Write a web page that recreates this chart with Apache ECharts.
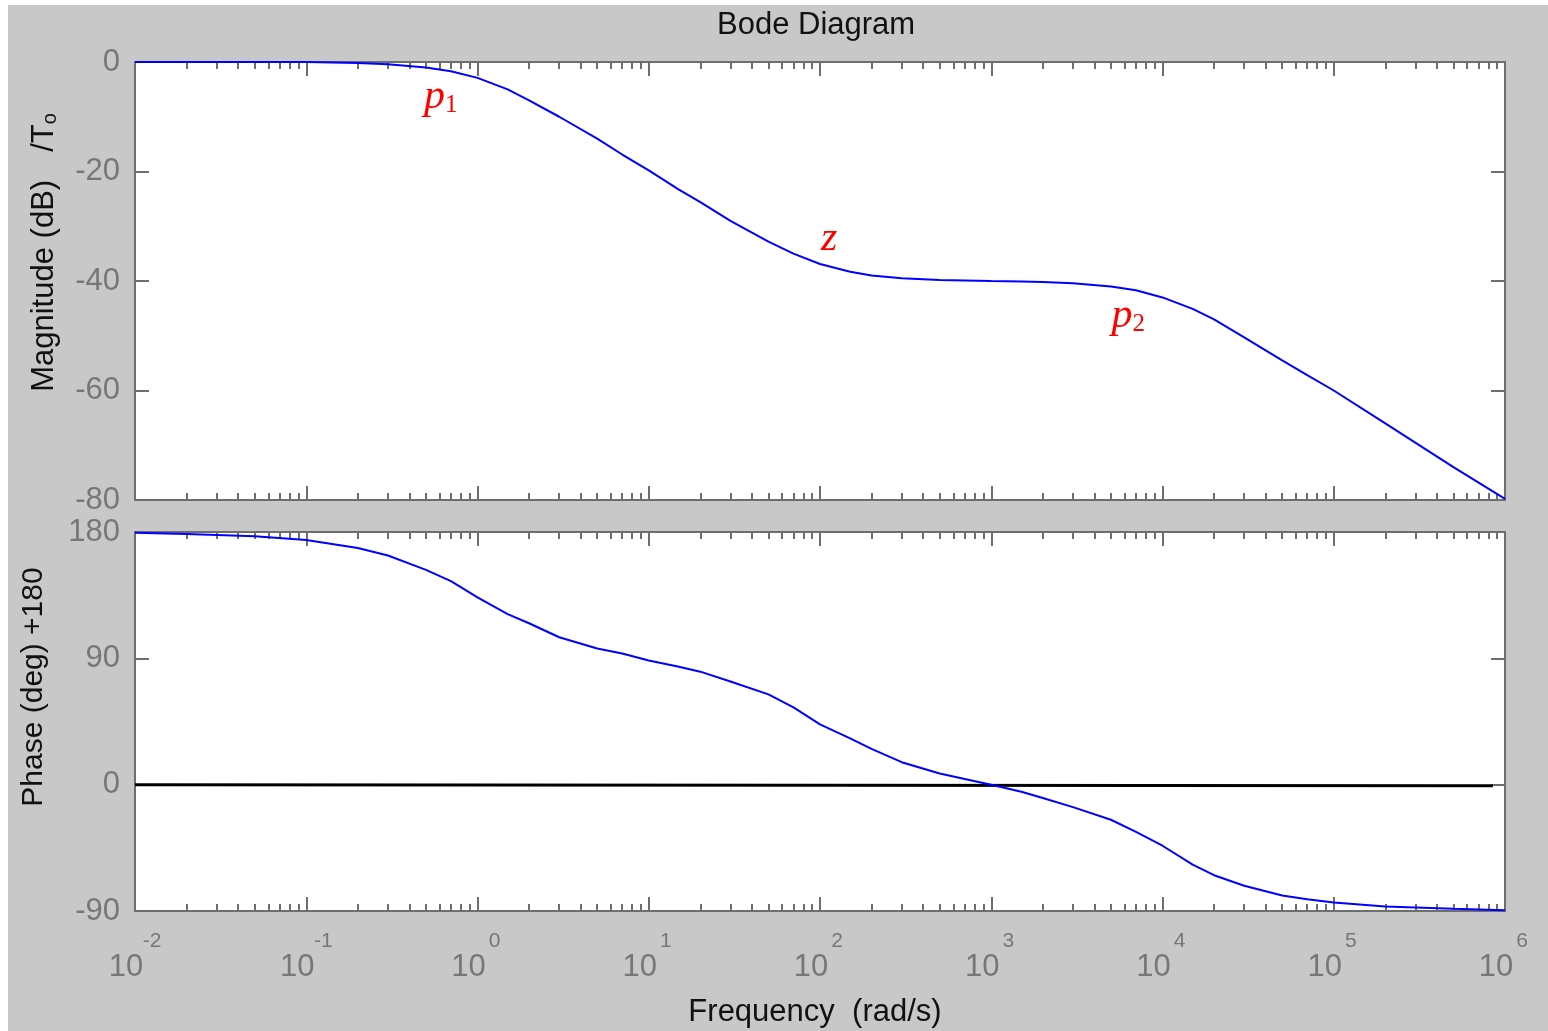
<!DOCTYPE html>
<html>
<head>
<meta charset="utf-8">
<title>Bode Diagram</title>
<script src="https://cdn.jsdelivr.net/npm/echarts@6.0.0/dist/echarts.min.js"></script>
<style>
  html, body { margin: 0; padding: 0; background: #fff; }
  #main { position: absolute; left: 8px; top: 5px; width: 1540px; height: 1026px; background: #c8c8c8; }
</style>
</head>
<body>
<div id="main"></div>
<script>
// frequency points (rad/s)
var freq = [0.01, 0.02, 0.05, 0.1, 0.2, 0.3, 0.5, 0.7, 1, 1.5, 2, 3, 5, 7, 10, 15, 20, 30, 50, 70,
    100, 150, 200, 300, 500, 700, 1000, 1500, 2000, 3000, 5000, 7000,
    1e4, 1.5e4, 2e4, 3e4, 5e4, 7e4, 1e5, 2e5, 5e5, 1e6];
// magnitude / To (dB)
var magDb = [0, 0, 0, 0, -0.2, -0.4, -1.0, -1.7, -2.9, -5.0, -7.0, -10.0, -14.0, -16.9, -19.8, -23.3, -25.6, -29.0, -32.8, -35.0,
    -36.9, -38.3, -39.0, -39.5, -39.8, -39.9, -40.0, -40.1, -40.2, -40.4, -41.0, -41.7,
    -43.0, -45.1, -47.0, -50.3, -54.5, -57.2, -60.0, -66.0, -74.0, -79.8];
// phase + 180 (deg)
var phaseDeg = [179.4, 178.5, 177.0, 174.3, 168.6, 163.3, 153.0, 145.0, 133.5, 121.5, 115.0, 105.0, 97.0, 93.5, 88.5, 84.0, 80.5, 73.5, 64.3, 55.0,
    43.0, 33.0, 25.5, 16.0, 8.0, 4.0, 0.0, -5.0, -9.5, -16.0, -25.0, -33.7,
    -43.5, -57.0, -64.5, -72.0, -79.0, -81.6, -84.0, -86.8, -88.4, -89.4];

// black reference line on the phase plot
var refFreq = [0.01, 8.5e5];
var refPhase = [0, -0.7];

// red labels on the magnitude curve
var noteText = ['{p|p}{s|1}', '{p|z}', '{p|p}{s|2}'];
var noteFreq = [0.61, 113, 6300];
var noteDb = [-6.4, -32.3, -46.4];

// x ticks: decade exponents and the minor multipliers
var decades = [-2, -1, 0, 1, 2, 3, 4, 5, 6];
var minorMult = [2, 3, 4, 5, 6, 7, 8, 9];

var minorPos = [];
decades.slice(0, -1).forEach(function (d) {
    minorMult.forEach(function (m) { minorPos.push(d + Math.log10(m)); });
});

var axisGray = '#6e6e6e';
var labelGray = '#777777';
var font = '"Liberation Sans", Arial, sans-serif';

function logAxis(grid) {
    return { type: 'log', logBase: 10, gridIndex: grid, position: 'bottom',
        min: 0.01, max: 1e6, show: false, axisLine: { onZero: false } };
}

// decoration axis in decade units, only for the box ticks
function tickAxis(grid, pos, len, custom) {
    var ax = {
        type: 'value', gridIndex: grid, position: pos,
        min: decades[0], max: decades[decades.length - 1], interval: 1,
        axisLine: { show: false, onZero: false },
        axisTick: { show: true, inside: true, length: len, lineStyle: { color: axisGray, width: 2 } },
        axisLabel: { show: false },
        splitLine: { show: false }
    };
    if (custom) ax.axisTick.customValues = custom;
    return ax;
}

function yAxis(grid, pos, min, max, step, labels) {
    return {
        type: 'value', gridIndex: grid, position: pos,
        min: min, max: max, interval: step,
        axisLine: { show: false, onZero: false },
        axisTick: { show: true, inside: true, length: 14, lineStyle: { color: axisGray, width: 2 } },
        axisLabel: { show: labels, margin: 15, color: labelGray, fontSize: 31, fontFamily: font },
        splitLine: { show: false }
    };
}

var xLabelAxis = tickAxis(1, 'bottom', 14);
xLabelAxis.axisLabel = {
    show: true, margin: 20,
    formatter: function (v) { return '{e|' + v + '}\n{b|10}'; },
    rich: {
        e: { fontSize: 21, lineHeight: 21, color: labelGray, fontFamily: font, padding: [0, 0, 0, 34] },
        b: { fontSize: 31, lineHeight: 31, color: labelGray, fontFamily: font, padding: [0, 18, 0, 0] }
    }
};
xLabelAxis.name = 'Frequency  (rad/s)';
xLabelAxis.nameLocation = 'middle';
xLabelAxis.nameGap = 86;
xLabelAxis.nameTextStyle = { fontSize: 31, color: '#111', fontFamily: font, padding: [0, 10, 0, 0] };

var magLeft = yAxis(0, 'left', -80, 0, 20, true);
magLeft.name = '{m|Magnitude (dB)}{t|/T}{s|o}';
magLeft.nameLocation = 'middle';
magLeft.nameGap = 75;
magLeft.nameTextStyle = {
    padding: [0, 0, 0, 57],
    rich: {
        m: { fontSize: 31, lineHeight: 31, verticalAlign: 'top', color: '#111', fontFamily: font },
        t: { fontSize: 31, lineHeight: 31, verticalAlign: 'top', color: '#111', fontFamily: font, padding: [0, 0, 0, 28] },
        s: { fontSize: 20, lineHeight: 20, verticalAlign: 'bottom', color: '#111', fontFamily: font, padding: [17, 0, 0, 0] }
    }
};

var phaseLeft = yAxis(1, 'left', -90, 180, 90, true);
phaseLeft.name = 'Phase (deg) +180';
phaseLeft.nameLocation = 'middle';
phaseLeft.nameGap = 86;
phaseLeft.nameTextStyle = { fontSize: 30, color: '#111', fontFamily: font, padding: [0, 0, 0, 69] };

function pairs(xs, ys) {
    return xs.map(function (x, i) { return [x, ys[i]]; });
}

var notes = noteText.map(function (t, i) {
    return { coord: [noteFreq[i], noteDb[i]], label: { formatter: t } };
});

var chart = echarts.init(document.getElementById('main'));
chart.setOption({
    animation: false,
    backgroundColor: '#c8c8c8',
    title: {
        text: 'Bode Diagram', left: 709, top: 5, padding: 0,
        textStyle: { fontSize: 31, fontWeight: 'normal', color: '#111', fontFamily: font }
    },
    grid: [
        { left: 127, right: 43, top: 57, height: 438, show: true, backgroundColor: '#fff', borderColor: axisGray, borderWidth: 2 },
        { left: 127, right: 43, top: 527, height: 379, show: true, backgroundColor: '#fff', borderColor: axisGray, borderWidth: 2 }
    ],
    xAxis: [
        logAxis(0),
        logAxis(1),
        tickAxis(0, 'bottom', 14),
        tickAxis(0, 'bottom', 7, minorPos),
        tickAxis(0, 'top', 14),
        tickAxis(0, 'top', 7, minorPos),
        xLabelAxis,
        tickAxis(1, 'bottom', 7, minorPos),
        tickAxis(1, 'top', 14),
        tickAxis(1, 'top', 7, minorPos)
    ],
    yAxis: [
        magLeft,
        yAxis(0, 'right', -80, 0, 20, false),
        phaseLeft,
        yAxis(1, 'right', -90, 180, 90, false)
    ],
    series: [
        {
            name: 'Magnitude', type: 'line', xAxisIndex: 0, yAxisIndex: 0,
            data: pairs(freq, magDb), showSymbol: false, clip: false,
            lineStyle: { color: '#0000ff', width: 2 },
            markPoint: {
                symbol: 'circle', symbolSize: 2,
                itemStyle: { color: 'rgba(0,0,0,0)' },
                label: {
                    show: true, position: 'inside',
                    rich: {
                        p: { fontSize: 42, lineHeight: 42, verticalAlign: 'top', fontStyle: 'italic', color: '#ff0000', fontFamily: '"Liberation Serif", serif' },
                        s: { fontSize: 25, lineHeight: 25, verticalAlign: 'bottom', color: '#ff0000', fontFamily: '"Liberation Serif", serif', padding: [21, 0, 0, 0] }
                    }
                },
                data: notes
            }
        },
        {
            name: 'Reference', type: 'line', xAxisIndex: 1, yAxisIndex: 2,
            data: pairs(refFreq, refPhase), showSymbol: false, clip: false,
            lineStyle: { color: '#000', width: 3 }
        },
        {
            name: 'Phase', type: 'line', xAxisIndex: 1, yAxisIndex: 2,
            data: pairs(freq, phaseDeg), showSymbol: false, clip: false,
            lineStyle: { color: '#0000ff', width: 2 }
        }
    ]
});
</script>
</body>
</html>
